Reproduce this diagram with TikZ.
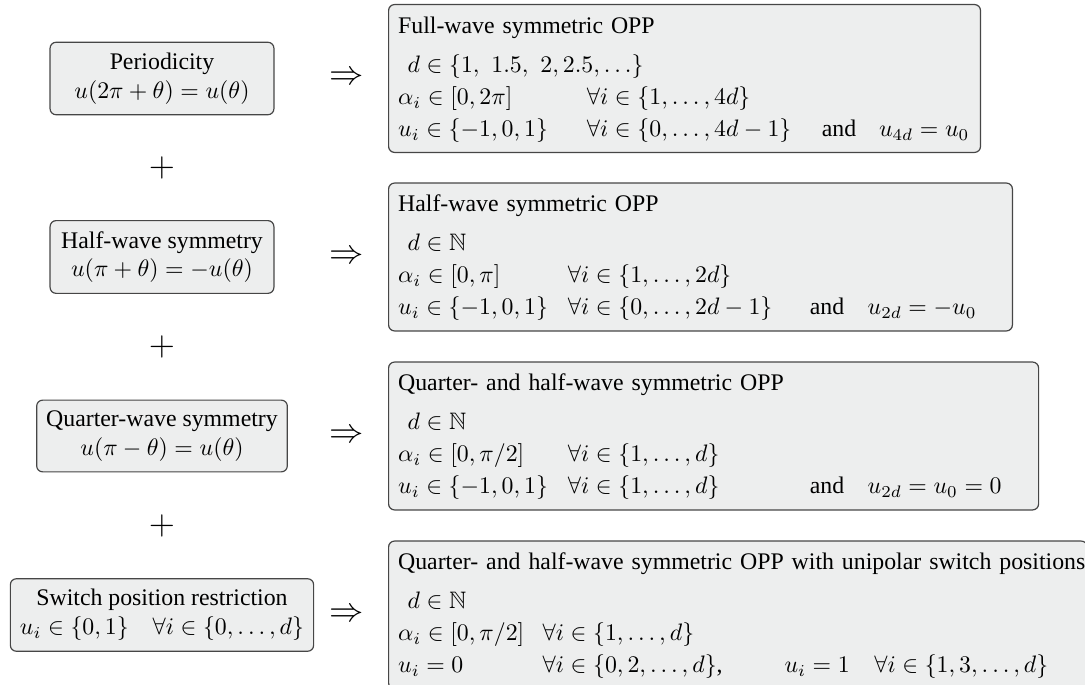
\documentclass[tikz,border=0pt]{standalone}
\usepackage[no-math]{fontspec}
\setmainfont{Liberation Serif}
\usepackage{amssymb}
\usepackage{array}
\usepackage{tikz}
\definecolor{boxgray}{RGB}{237,238,238}
\definecolor{boxline}{RGB}{70,70,70}
\tikzset{
  cond/.style = {draw=boxline, fill=boxgray, rounded corners=2.5pt, align=center, inner xsep=4pt, inner ysep=4.5pt, line width=0.5pt},
  opp/.style = {cond, anchor=west, align=left, inner ysep=2pt, minimum height=62.1pt},
  plus/.style = {font=\Large, inner sep=0pt},
  impl/.style = {font=\Large, inner sep=0pt},
}
\newcommand{\hd}[1]{\multicolumn{4}{@{}l@{}}{#1}}

\begin{document}
\begin{tikzpicture}[x=0.42pt, y=-0.42pt]
\renewcommand{\arraystretch}{1.12}
\useasboundingbox (0,0) rectangle (1085,685);
% conditions on the left
\node [cond, minimum width=94pt] (per) at (162,78.5) {Periodicity\\ $u(2\pi+\theta)=u(\theta)$};
\node [cond, minimum width=94pt] (half) at (162,257) {Half-wave symmetry\\ $u(\pi+\theta)=-u(\theta)$};
\node [cond] (quart) at (162,436) {Quarter-wave symmetry\\ $u(\pi-\theta)=u(\theta)$};
\node [cond] (sw) at (162,615) {Switch position restriction\\ $u_i\in\{0,1\}\quad\forall i\in\{0,\dots,d\}$};
\node [plus] (p1) at (162,168) {$+$};
\node [plus] (p2) at (162,347) {$+$};
\node [plus] (p3) at (162,526) {$+$};
\node [impl] (i1) at (347,78.5) {$\Rightarrow$};
\node [impl] (i2) at (347,257) {$\Rightarrow$};
\node [impl] (i3) at (347,436) {$\Rightarrow$};
\node [impl] (i4) at (347,615) {$\Rightarrow$};
% resulting OPP classes
\node [opp, text width=240.6pt] (full) at (388,78.5) {%
\begin{tabular}{@{}p{79.3pt}@{}p{98.7pt}@{}p{24pt}@{}l@{}}
\hd{Full-wave symmetric OPP}\\[3pt]
\hd{\hspace{4pt}$d\in\{1,\ 1.5,\ 2, 2.5,\dots\}$}\\
$\alpha_i\in[0,2\pi]$ & $\forall i\in\{1,\dots,4d\}$ \\
$u_i\in\{-1,0,1\}$ & $\forall i\in\{0,\dots,4d-1\}$ & and & $u_{4d}=u_0$
\end{tabular}};
\node [opp, text width=254pt] (hw) at (388,257) {%
\begin{tabular}{@{}p{71.3pt}@{}p{101.6pt}@{}p{24.3pt}@{}l@{}}
\hd{Half-wave symmetric OPP}\\[3pt]
\hd{\hspace{4pt}$d\in\mathbb{N}$}\\
$\alpha_i\in[0,\pi]$ & $\forall i\in\{1,\dots,2d\}$ \\
$u_i\in\{-1,0,1\}$ & $\forall i\in\{0,\dots,2d-1\}$ & and & $u_{2d}=-u_0$
\end{tabular}};
\node [opp, text width=265pt] (qhw) at (388,436) {%
\begin{tabular}{@{}p{71.3pt}@{}p{101.6pt}@{}p{24.3pt}@{}l@{}}
\hd{Quarter- and half-wave symmetric OPP}\\[3pt]
\hd{\hspace{4pt}$d\in\mathbb{N}$}\\
$\alpha_i\in[0,\pi/2]$ & $\forall i\in\{1,\dots,d\}$ \\
$u_i\in\{-1,0,1\}$ & $\forall i\in\{1,\dots,d\}$ & and & $u_{2d}=u_0=0$
\end{tabular}};
\node [opp, text width=285.4pt] (uni) at (388,615) {%
\begin{tabular}{@{}p{60.7pt}@{}p{101.6pt}@{}p{37.7pt}@{}l@{}}
\hd{Quarter- and half-wave symmetric OPP with unipolar switch positions}\\[3pt]
\hd{\hspace{4pt}$d\in\mathbb{N}$}\\
$\alpha_i\in[0,\pi/2]$ & $\forall i\in\{1,\dots,d\}$ \\
$u_i=0$ & $\forall i\in\{0,2,\dots,d\}$, & $u_i=1$ & $\forall i\in\{1,3,\dots,d\}$
\end{tabular}};
\end{tikzpicture}
\end{document}
